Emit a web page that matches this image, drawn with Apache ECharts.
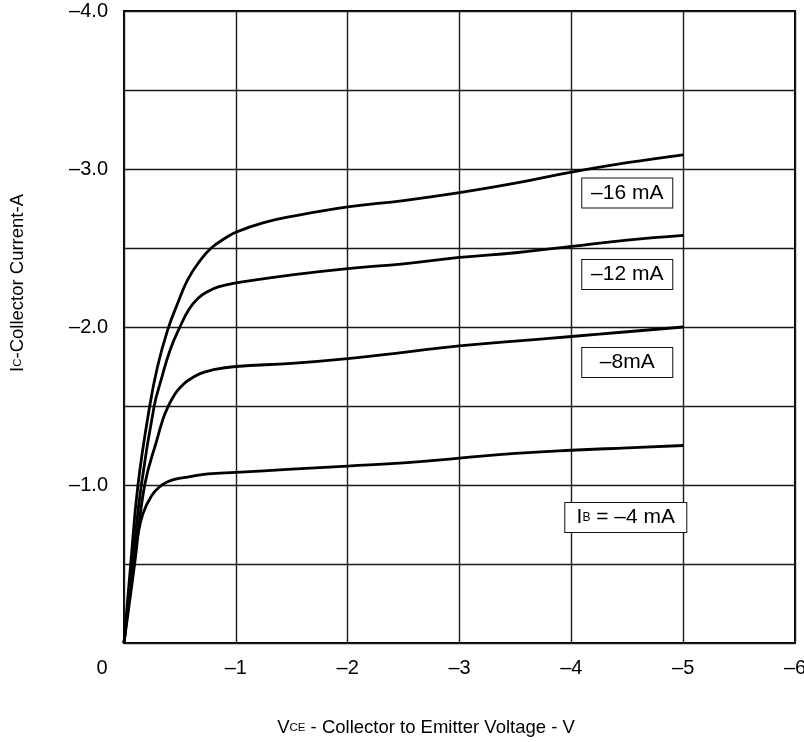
<!DOCTYPE html>
<html>
<head>
<meta charset="utf-8">
<title>IC - VCE</title>
<script src="https://cdn.jsdelivr.net/npm/echarts@6/dist/echarts.min.js"></script>
<style>
	html, body { margin: 0; padding: 0; background: #fff; }
	#chart { width: 804px; height: 742px; }
</style>
</head>
<body>
<div id="chart"></div>
<script>
// collector curves, [VCE (V), IC (A)]
var ib16 = [[0, 0], [-0.06, -0.5], [-0.125, -1.0], [-0.23, -1.5], [-0.30, -1.75], [-0.39, -1.98],
	[-0.48, -2.15], [-0.57, -2.30], [-0.68, -2.42], [-0.78, -2.50], [-0.9, -2.56], [-1.0, -2.60],
	[-1.25, -2.66], [-1.5, -2.70], [-2.0, -2.76], [-2.5, -2.80], [-3.0, -2.85], [-3.5, -2.91],
	[-4.0, -2.98], [-4.5, -3.04], [-5.0, -3.09]];
var ib12 = [[0, 0], [-0.075, -0.5], [-0.155, -1.0], [-0.27, -1.5], [-0.33, -1.66], [-0.41, -1.85],
	[-0.50, -2.0], [-0.58, -2.11], [-0.66, -2.18], [-0.75, -2.225], [-0.85, -2.255], [-1.0, -2.28],
	[-1.5, -2.33], [-2.0, -2.37], [-2.5, -2.40], [-3.0, -2.44], [-3.5, -2.47], [-4.0, -2.51],
	[-4.5, -2.55], [-5.0, -2.58]];
var ib8 = [[0, 0], [-0.095, -0.5], [-0.185, -1.0], [-0.30, -1.3], [-0.35, -1.42], [-0.39, -1.49],
	[-0.45, -1.57], [-0.5, -1.615], [-0.57, -1.66], [-0.68, -1.705], [-0.8, -1.73], [-1.0, -1.75],
	[-1.5, -1.77], [-2.0, -1.80], [-2.5, -1.84], [-3.0, -1.88], [-3.5, -1.91], [-4.0, -1.94],
	[-4.5, -1.97], [-5.0, -2.00]];
var ib4 = [[0, 0], [-0.08, -0.5], [-0.12, -0.67], [-0.17, -0.82], [-0.245, -0.93], [-0.32, -0.99],
	[-0.39, -1.02], [-0.48, -1.04], [-0.57, -1.05], [-0.75, -1.07], [-1.0, -1.08], [-1.5, -1.10],
	[-2.0, -1.12], [-2.5, -1.14], [-3.0, -1.17], [-3.5, -1.20], [-4.0, -1.22], [-4.5, -1.235],
	[-5.0, -1.25]];

// curve labels and where their boxes sit (data units)
var curveNames = ['-16 mA', '-12 mA', '-8 mA', '-4 mA'];
var labelTexts = ['\u201316 mA', '\u201312 mA', '\u20138mA', '{n|I}{s|B}{n| = \u20134 mA}'];
var labelCoords = [[-4.5, -2.848], [-4.5, -2.332], [-4.5, -1.775], [-4.487, -0.794]];
var labelWidths = [90, 90, 90, 121];

var FONT = '"Liberation Sans", Arial, sans-serif';
var myChart = echarts.init(document.getElementById('chart'));

function makeSeries(data, i) {
	return {
		name: curveNames[i],
		type: 'line',
		data: data,
		showSymbol: false,
		smooth: 0.45,
		lineStyle: { color: '#000', width: 2.8 },
		markPoint: {
			symbol: 'circle',
			symbolSize: 0,
			label: {
				show: true,
				position: 'inside',
				formatter: labelTexts[i],
				width: labelWidths[i],
				height: 29,
				lineHeight: 29,
				align: 'center',
				verticalAlign: 'middle',
				backgroundColor: '#fff',
				borderColor: '#111',
				borderWidth: 1,
				color: '#000',
				fontFamily: FONT,
				fontSize: 21,
				rich: {
					n: { fontFamily: FONT, fontSize: 21, color: '#000', lineHeight: 29 },
					s: { fontFamily: FONT, fontSize: 12, color: '#000', lineHeight: 12, verticalAlign: 'bottom', padding: [0, 0, 8, 0] }
				}
			},
			data: [{ coord: labelCoords[i] }]
		}
	};
}

var option = {
	animation: false,
	backgroundColor: '#fff',
	grid: {
		left: 124, right: 9, top: 11, bottom: 99,
		outerBoundsMode: 'none',
		show: true, borderColor: '#000', borderWidth: 2
	},
	xAxis: {
		type: 'value',
		min: -6, max: 0, interval: 1,
		inverse: true,
		axisLine: { show: false },
		axisTick: { show: false },
		splitLine: { lineStyle: { color: '#1a1a1a', width: 1.4 } },
		axisLabel: {
			color: '#000', fontFamily: FONT, fontSize: 20, margin: 15,
			formatter: function (v) {
				if (v === 0) return '{z|0}';
				return '\u2013' + Math.abs(v);
			},
			rich: { z: { fontFamily: FONT, fontSize: 20, color: '#000', padding: [0, 44, 0, 0] } }
		},
		name: '{n|V}{s|CE}{n| - Collector to Emitter Voltage - V}',
		nameLocation: 'middle',
		nameGap: 74,
		nameTextStyle: {
			padding: [0, 67, 0, 0],
			rich: {
				n: { fontFamily: FONT, fontSize: 18.5, color: '#000', lineHeight: 22 },
				s: { fontFamily: FONT, fontSize: 11.5, color: '#000', lineHeight: 12, verticalAlign: 'bottom', padding: [0, 0, 5, 0] }
			}
		}
	},
	yAxis: {
		type: 'value',
		min: -4, max: 0, interval: 0.5,
		inverse: true,
		axisLine: { show: false },
		axisTick: { show: false },
		splitLine: { lineStyle: { color: '#1a1a1a', width: 1.4 } },
		axisLabel: {
			color: '#000', fontFamily: FONT, fontSize: 20, margin: 16,
			formatter: function (v) {
				if (v === 0 || v % 1 !== 0) return '';
				return '\u2013' + Math.abs(v).toFixed(1);
			}
		},
		name: '{n|I}{s|C}{n|-Collector Current-A}',
		nameLocation: 'middle',
		nameRotate: 90,
		nameGap: 95,
		nameTextStyle: {
			padding: [0, 0, 0, 88],
			rich: {
				n: { fontFamily: FONT, fontSize: 18.5, color: '#000', lineHeight: 22 },
				s: { fontFamily: FONT, fontSize: 11.5, color: '#000', lineHeight: 12, verticalAlign: 'bottom', padding: [0, 0, 5, 0] }
			}
		}
	},
	series: [ib16, ib12, ib8, ib4].map(makeSeries)
};

myChart.setOption(option);
</script>
</body>
</html>
